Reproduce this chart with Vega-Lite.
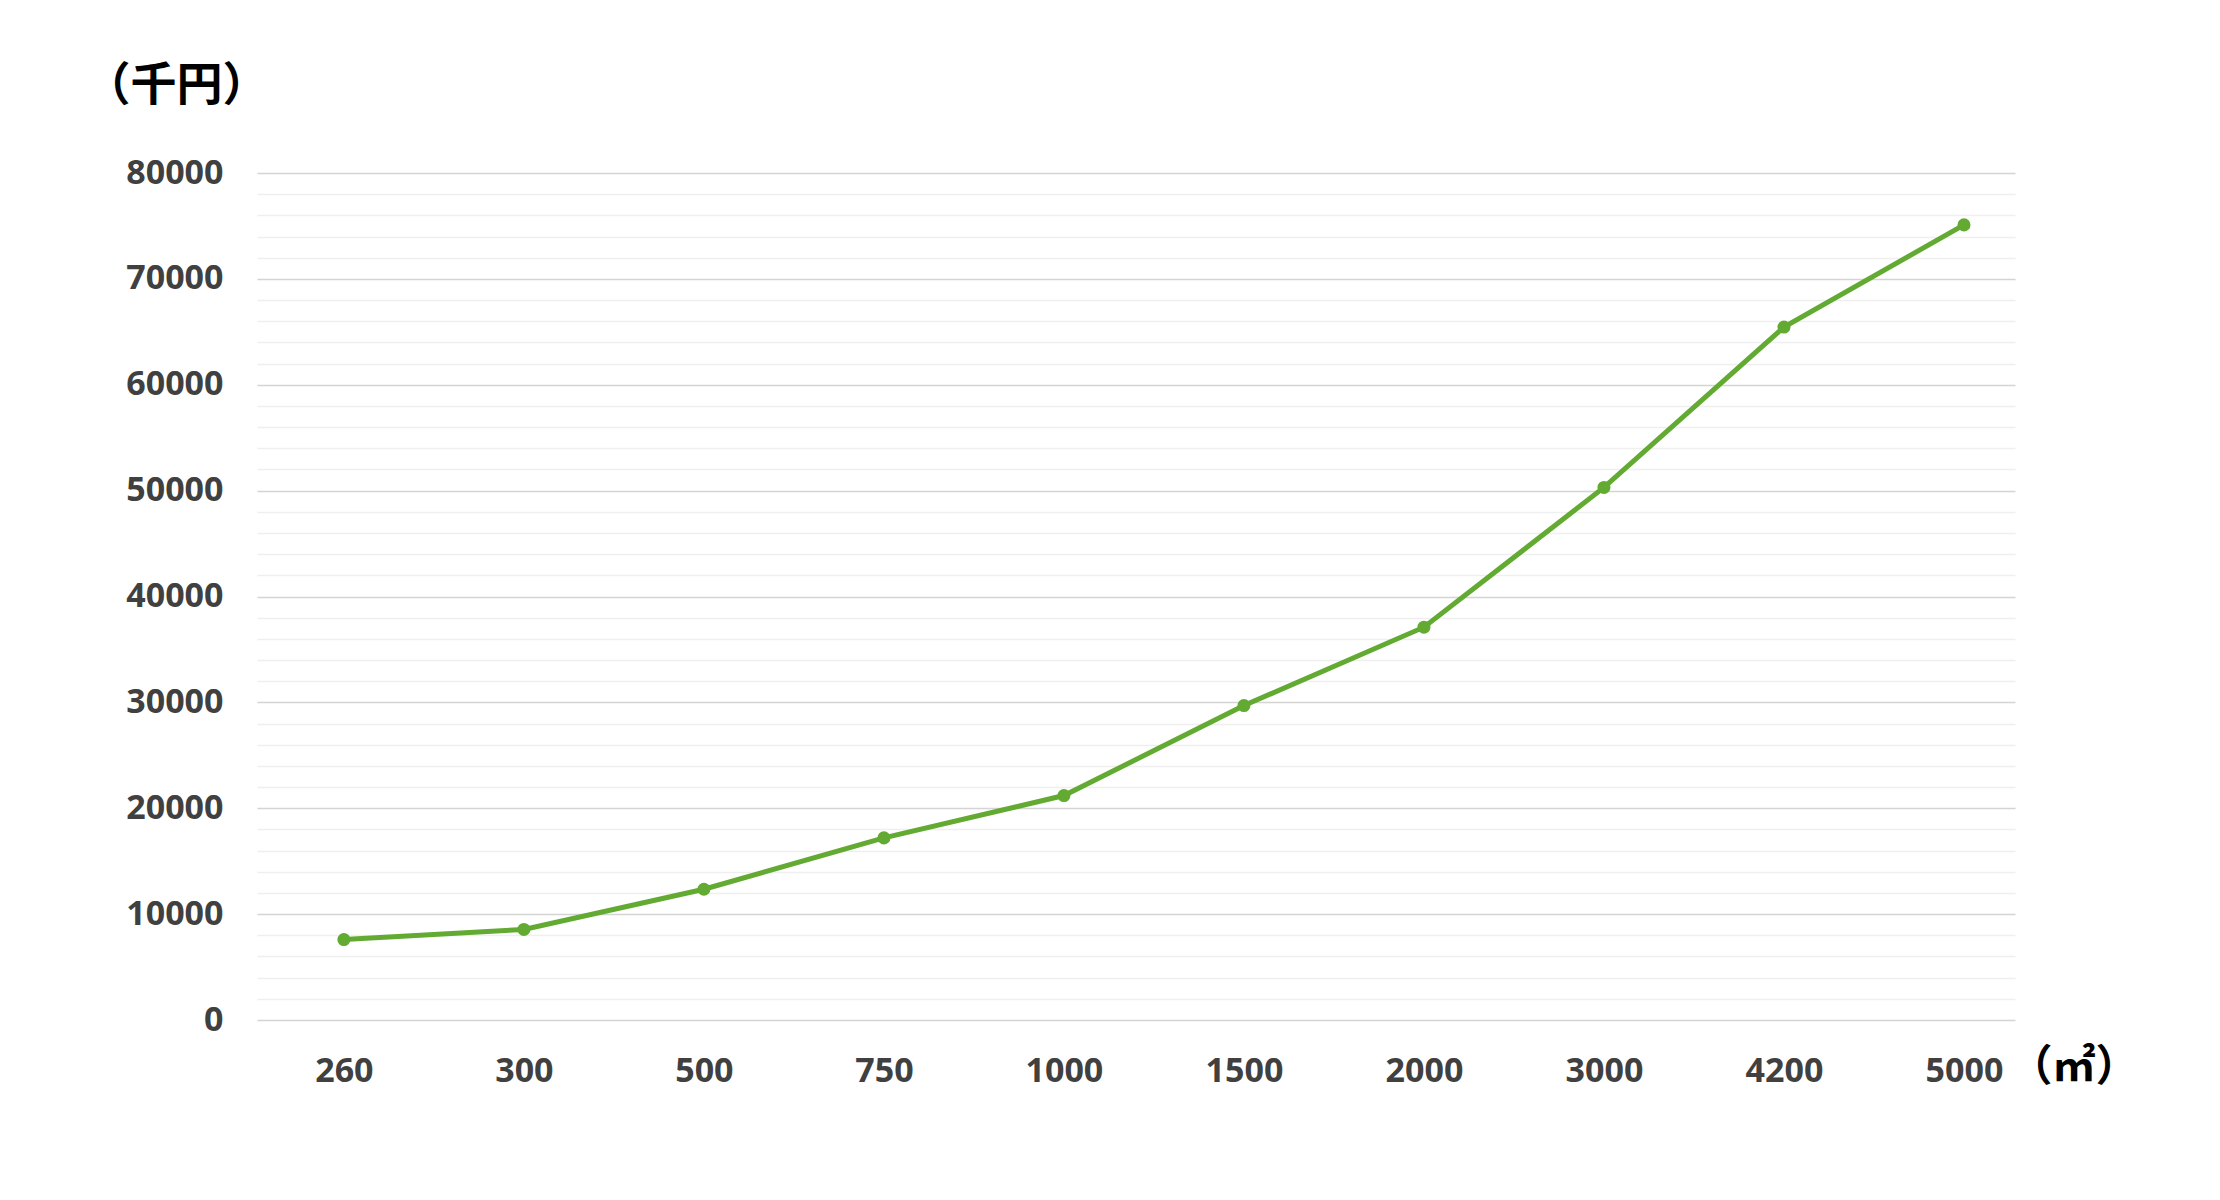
{
  "$schema": "https://vega.github.io/schema/vega-lite/v6.json",
  "autosize": "none",
  "width": 1758,
  "height": 847,
  "padding": {"left": 257, "top": 173, "right": 205, "bottom": 180},
  "background": "white",
  "config": {"view": {"stroke": null}},
  "data": {
    "values": [
      {"area": "260", "cost": 7600},
      {"area": "300", "cost": 8550},
      {"area": "500", "cost": 12350},
      {"area": "750", "cost": 17200},
      {"area": "1000", "cost": 21200},
      {"area": "1500", "cost": 29700},
      {"area": "2000", "cost": 37100},
      {"area": "3000", "cost": 50300},
      {"area": "4200", "cost": 65450},
      {"area": "5000", "cost": 75100}
    ]
  },
  "encoding": {
    "x": {
      "field": "area", "type": "ordinal", "sort": null,
      "scale": {"type": "point", "padding": 0.383, "align": 0.63},
      "axis": {
        "title": "（㎡）",
        "titleFont": "Noto Sans CJK JP", "titleFontSize": 43, "titleFontWeight": "bold", "titleColor": "#000000",
        "titleAnchor": "start", "titleAlign": "left", "titleBaseline": "middle",
        "titleX": 1752, "titleY": 47,
        "labelAngle": 0, "labelFont": "Open Sans", "labelFontSize": 34, "labelFontWeight": "bold",
        "labelColor": "#404040", "labelPadding": 34, "ticks": false, "domain": false, "grid": false
      }
    },
    "y": {
      "field": "cost", "type": "quantitative",
      "scale": {"domain": [0, 80000], "nice": false},
      "axis": {
        "title": "（千円）",
        "titleFont": "Noto Sans CJK JP", "titleFontSize": 46, "titleFontWeight": "bold", "titleColor": "#000000",
        "titleAngle": 0, "titleAnchor": "start", "titleAlign": "left", "titleBaseline": "middle",
        "titleX": -173, "titleY": -88,
        "values": [0,2000,4000,6000,8000,10000,12000,14000,16000,18000,20000,22000,24000,26000,28000,30000,32000,34000,36000,38000,40000,42000,44000,46000,48000,50000,52000,54000,56000,58000,60000,62000,64000,66000,68000,70000,72000,74000,76000,78000,80000],
        "format": "d",
        "labelExpr": "datum.value % 10000 === 0 ? datum.label : ''",
        "labelFont": "Open Sans", "labelFontSize": 34, "labelFontWeight": "bold", "labelColor": "#404040",
        "labelPadding": 34, "ticks": false, "domain": false,
        "grid": true, "gridWidth": 1.5,
        "gridColor": {"condition": {"test": "datum.value % 10000 === 0", "value": "#d4d4d4"}, "value": "#efefef"}
      }
    }
  },
  "layer": [
    {"mark": {"type": "line", "color": "#62AA32", "strokeWidth": 5}},
    {"mark": {"type": "point", "filled": true, "opacity": 1, "color": "#62AA32", "size": 170}}
  ]
}
